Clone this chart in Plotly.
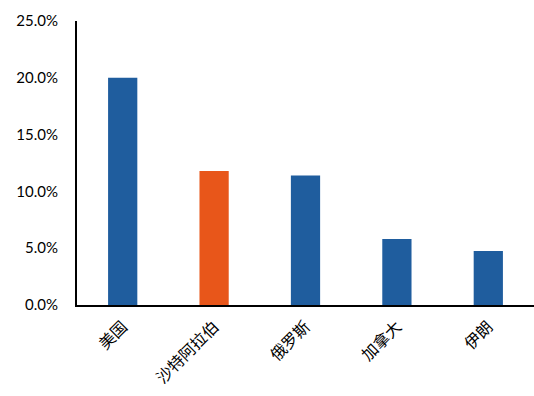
import plotly.graph_objects as go

categories = ["美国", "沙特阿拉伯", "俄罗斯", "加拿大", "伊朗"]
values = [20.0, 11.8, 11.4, 5.8, 4.75]
bar_colors = ["#1F5D9E", "#E8561A", "#1F5D9E", "#1F5D9E", "#1F5D9E"]
y_ticks = [0, 5, 10, 15, 20, 25]
y_tick_text = [f"{v:.1f}%" for v in y_ticks]

fig = go.Figure(go.Bar(
    x=categories, y=values, marker=dict(color=bar_colors, line=dict(width=0)),
    width=0.32,
))

fig.update_layout(
    width=534, height=396,
    margin=dict(l=77, r=0, t=21, b=91),
    plot_bgcolor="white", paper_bgcolor="white",
    showlegend=False,
    font=dict(family="Lato, 'Noto Sans', sans-serif", size=15, color="#000"),
)
fig.update_yaxes(
    range=[0, 25], tickmode="array", tickvals=y_ticks, ticktext=y_tick_text,
    showgrid=False, zeroline=False, showline=True, linecolor="black", linewidth=2,
    ticks="", ticklen=0, ticklabelstandoff=14, tickfont=dict(size=15, color="#000"),
)
fig.update_xaxes(
    showgrid=False, showline=True, linecolor="black", linewidth=2,
    tickangle=-45, ticks="", ticklabelstandoff=4,
    tickfont=dict(family="Noto Sans CJK SC", size=16, color="#000"),
)

fig.write_html("out.html")
